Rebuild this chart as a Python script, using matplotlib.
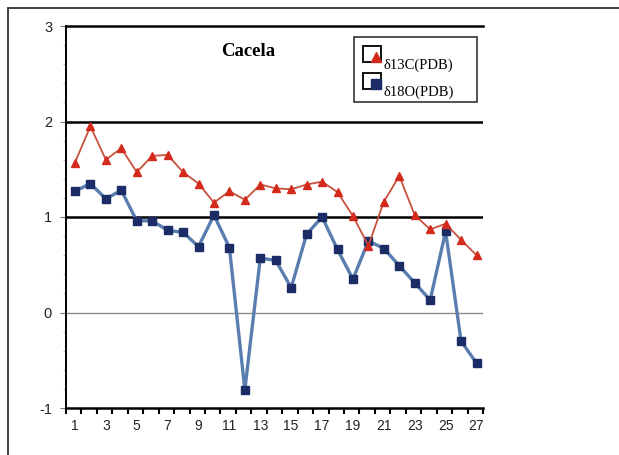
import matplotlib.pyplot as plt
from matplotlib.patches import Rectangle
from matplotlib.lines import Line2D

# sample numbers along the section
samples = list(range(1, 28))
d13c = [1.57, 1.95, 1.60, 1.72, 1.47, 1.64, 1.65, 1.47, 1.35, 1.15,
        1.27, 1.18, 1.34, 1.30, 1.29, 1.34, 1.37, 1.26, 1.01, 0.70,
        1.16, 1.43, 1.02, 0.87, 0.93, 0.76, 0.60]
d18o = [1.27, 1.35, 1.19, 1.28, 0.96, 0.96, 0.86, 0.84, 0.69, 1.02,
        0.68, -0.81, 0.57, 0.545, 0.26, 0.82, 1.00, 0.66, 0.35, 0.75,
        0.67, 0.49, 0.31, 0.13, 0.85, -0.30, -0.53]
y_ticks = [-1, 0, 1, 2, 3]
x_labels = list(range(1, 28, 2))

red_line = '#c8503c'
red_mark = '#d42a1c'
blue_line = '#5a7db0'
blue_mark = '#1c2c66'

W, H = 619, 455
fig = plt.figure(figsize=(W / 100, H / 100), dpi=100)
ax = fig.add_axes([66 / W, 1 - 408 / H, 417 / W, 382 / H])


def px(x, y):
    # figure fraction from pixel position measured from the top-left
    return x / W, 1 - y / H


# outer frame (only top and left edges show)
fig.patches.append(Rectangle((8 / W, -0.1), 1.2, 1 - 8 / H + 0.1,
                             transform=fig.transFigure, fill=False,
                             edgecolor='#333333', linewidth=1.3))

ax.set_xlim(0.42, 27.27)
ax.set_ylim(-1, 3)

# horizontal rules
for v in (1, 2):
    ax.axhline(v, color='black', linewidth=1.8, zorder=1)
ax.axhline(0, color='#8a8a8a', linewidth=1.0, zorder=1)

ax.plot(samples, d18o, color=blue_line, linewidth=2.4, marker='s',
        markersize=5.5, markerfacecolor=blue_mark, markeredgecolor=blue_mark,
        zorder=3)
ax.plot(samples, d13c, color=red_line, linewidth=1.3, marker='^',
        markersize=6, markerfacecolor=red_mark, markeredgecolor=red_mark,
        zorder=4)

ax.spines['right'].set_visible(False)
ax.spines['top'].set_linewidth(1.8)
ax.spines['bottom'].set_linewidth(1.8)
ax.spines['left'].set_linewidth(1.4)

ax.set_xticks(x_labels)
ax.set_xticklabels([str(v) for v in x_labels], fontsize=10,
                   family='Liberation Sans', color='#222222')
ax.set_xticks([k + 0.42 for k in range(28)], minor=True)
ax.tick_params(axis='x', which='major', length=0, pad=8)
ax.tick_params(axis='x', which='minor', length=4, width=1.5, direction='out')

ax.set_yticks(y_ticks)
ax.set_yticklabels([str(v) for v in y_ticks], fontsize=10.5,
                   family='Liberation Sans', color='#222222')
ax.set_yticks([v / 5 for v in range(-5, 15)], minor=True)
ax.tick_params(axis='y', which='major', length=4, width=0.8,
               color='#777777', pad=6)
ax.tick_params(axis='y', which='minor', length=2.5, width=0.6,
               color='#aaaaaa')

fig.text(*px(248, 52), 'Cacela', fontsize=13.5, fontweight='bold',
         family='Liberation Serif', ha='center', va='center')

# legend box
fig.patches.append(Rectangle(px(354, 102), 123 / W, 65 / H,
                             transform=fig.transFigure, fill=True,
                             facecolor='white', edgecolor='#222222',
                             linewidth=1.1, zorder=5))
entries = [('δ13C(PDB)', '^', red_mark, 46),
           ('δ18O(PDB)', 's', blue_mark, 73)]
for label, mk, col, top in entries:
    fig.patches.append(Rectangle(px(363, top + 16), 18 / W, 16 / H,
                                 transform=fig.transFigure, fill=False,
                                 edgecolor='#111111', linewidth=1.4,
                                 zorder=6))
    fig.lines.append(Line2D([376 / W], [1 - (top + 11) / H],
                            transform=fig.transFigure, marker=mk,
                            markersize=7, color=col, zorder=7))
    fig.text(*px(383, top + 19), label, fontsize=10.5,
             family='Liberation Serif', va='center', ha='left', zorder=7)

fig.savefig('out.png', dpi=100, facecolor='white')
